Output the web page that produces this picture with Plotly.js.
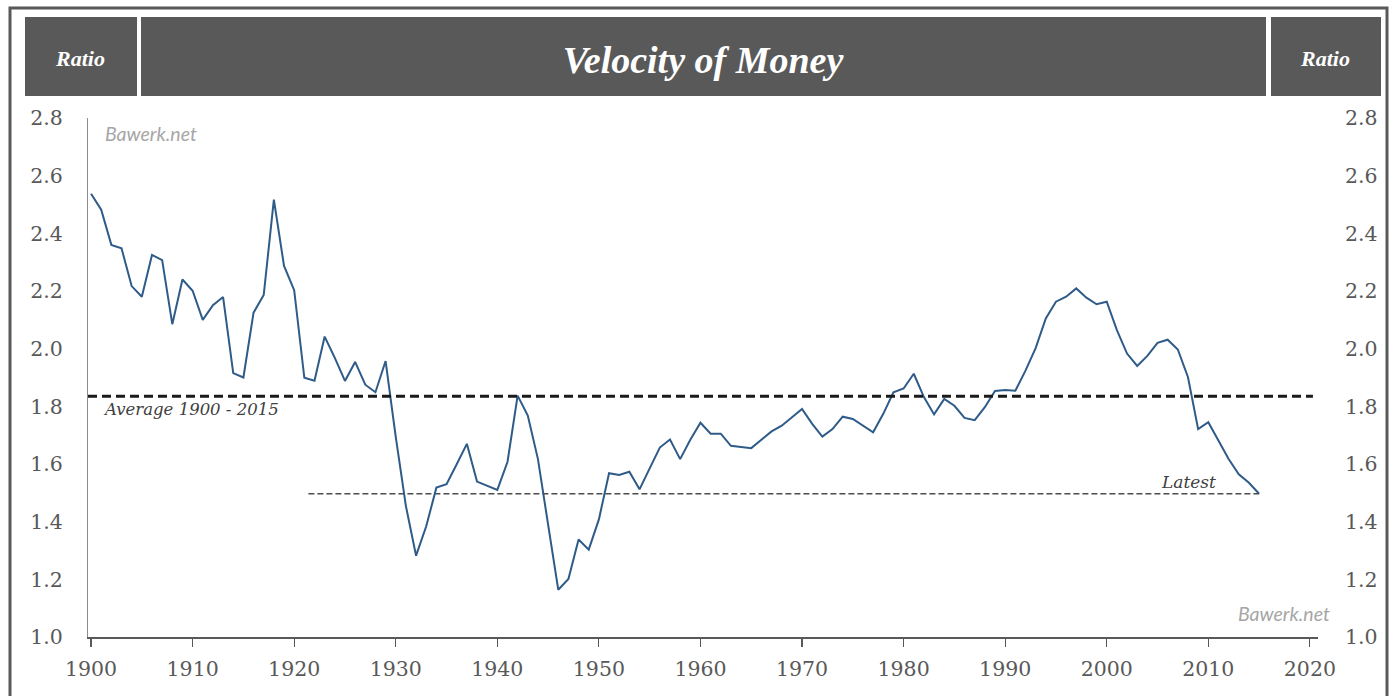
<!DOCTYPE html>
<html>
<head>
<meta charset="utf-8">
<script src="https://cdn.plot.ly/plotly-3.0.1.min.js"></script>
<style>
  html, body { margin: 0; padding: 0; background: #ffffff; }
  #chart { width: 1394px; height: 696px; }
</style>
</head>
<body>
<div id="chart"></div>
<script>
// ---- Data ----
const years = [];
for (let y = 1900; y <= 2015; y++) years.push(y);

const velocity = [
  2.537, 2.482, 2.360, 2.348, 2.217, 2.180, 2.325, 2.307, 2.085, 2.240,
  2.201, 2.100, 2.151, 2.179, 1.915, 1.900, 2.125, 2.186, 2.517, 2.287,
  2.203, 1.899, 1.889, 2.042, 1.968, 1.888, 1.954, 1.875, 1.849, 1.957,
  1.694, 1.454, 1.282, 1.384, 1.518, 1.530, 1.599, 1.670, 1.539, 1.524,
  1.510, 1.607, 1.837, 1.768, 1.617, 1.390, 1.164, 1.201, 1.338, 1.303,
  1.408, 1.568, 1.562, 1.573, 1.512, 1.585, 1.657, 1.685, 1.617, 1.684,
  1.743, 1.705, 1.705, 1.663, 1.660, 1.655, 1.684, 1.713, 1.733, 1.762,
  1.791, 1.739, 1.695, 1.721, 1.764, 1.756, 1.733, 1.710, 1.774, 1.849,
  1.862, 1.913, 1.832, 1.772, 1.826, 1.802, 1.760, 1.752, 1.797, 1.853,
  1.857, 1.854, 1.924, 2.002, 2.105, 2.163, 2.180, 2.209, 2.177, 2.154,
  2.163, 2.064, 1.983, 1.940, 1.975, 2.020, 2.031, 1.997, 1.901, 1.721,
  1.745, 1.681, 1.617, 1.564, 1.535, 1.497
];

const averageValue = 1.835;           // "Average 1900 - 2015"
const averageSpan = [1899.7, 2020.3]; // extent of the average line
const latestStart = 1921.4;           // where the "Latest" line begins
const xTicks = [1900, 1910, 1920, 1930, 1940, 1950, 1960, 1970, 1980, 1990, 2000, 2010, 2020];
const yTicks = [1.0, 1.2, 1.4, 1.6, 1.8, 2.0, 2.2, 2.4, 2.6, 2.8];
const yTickText = yTicks.map(v => v.toFixed(1));

const titleText = "Velocity of Money";
const unitText = "Ratio";
const sourceText = "Bawerk.net";
const averageLabel = "Average 1900 - 2015";
const latestLabel = "Latest";

// ---- Layout helpers (pixel -> paper, for decoration only) ----
const W = 1394, H = 696;
const M = { l: 88, r: 76, t: 118, b: 59 };
const PW = W - M.l - M.r, PH = H - M.t - M.b;
const px = x => (x - M.l) / PW;
const py = y => (H - M.b - y) / PH;

const latestValue = velocity[velocity.length - 1];
const lastYear = years[years.length - 1];

const tickFont = { family: "DejaVu Serif", size: 20.5, color: "#595959" };

const traces = [
  {
    x: averageSpan, y: [averageValue, averageValue],
    type: "scatter", mode: "lines", yaxis: "y2",
    line: { color: "#1a1a1a", width: 3, dash: "9px,5px" },
    hoverinfo: "skip", showlegend: false
  },
  {
    x: [latestStart, lastYear], y: [latestValue, latestValue],
    type: "scatter", mode: "lines",
    line: { color: "#4d4d4d", width: 1.5, dash: "6px,3px" },
    hoverinfo: "skip", showlegend: false
  },
  {
    x: years, y: velocity,
    type: "scatter", mode: "lines",
    line: { color: "#2f5b88", width: 2 },
    showlegend: false
  }
];

const headerColor = "#595959";
const layout = {
  width: W, height: H,
  margin: M,
  paper_bgcolor: "#ffffff",
  plot_bgcolor: "#ffffff",
  showlegend: false,
  title: {
    text: titleText,
    x: 703 / W, xref: "container", xanchor: "center",
    y: 1 - 60 / H, yref: "container", yanchor: "middle",
    font: { family: "Liberation Serif", size: 38, color: "#ffffff", weight: "bold", style: "italic" }
  },
  xaxis: {
    range: [1899.7, 2020.8],
    tickmode: "array", tickvals: xTicks, ticktext: xTicks.map(String),
    ticks: "outside", ticklen: 8, tickwidth: 1.2, tickcolor: "#595959",
    showline: true, linecolor: "#595959", linewidth: 1.5,
    showgrid: false, zeroline: false,
    tickfont: tickFont, ticklabelstandoff: 5
  },
  yaxis: {
    range: [1.0, 2.8],
    tickmode: "array", tickvals: yTicks, ticktext: yTickText,
    ticks: "", showline: true, linecolor: "#8c8c8c", linewidth: 1,
    showgrid: false, zeroline: false,
    tickfont: tickFont, ticklabelstandoff: 20
  },
  yaxis2: {
    range: [1.0, 2.8], overlaying: "y", side: "right",
    tickmode: "array", tickvals: yTicks, ticktext: yTickText,
    ticks: "", showline: false, showgrid: false, zeroline: false,
    tickfont: tickFont, ticklabelstandoff: 26
  },
  shapes: [
    // outer frame
    { type: "rect", xref: "paper", yref: "paper", layer: "below",
      x0: px(10), x1: px(1387), y0: py(705), y1: py(8),
      line: { color: "#595959", width: 3 }, fillcolor: "rgba(0,0,0,0)" },
    // header boxes
    { type: "rect", xref: "paper", yref: "paper", layer: "below",
      x0: px(25), x1: px(137), y0: py(96), y1: py(17),
      line: { width: 0 }, fillcolor: headerColor },
    { type: "rect", xref: "paper", yref: "paper", layer: "below",
      x0: px(141), x1: px(1266), y0: py(96), y1: py(17),
      line: { width: 0 }, fillcolor: headerColor },
    { type: "rect", xref: "paper", yref: "paper", layer: "below",
      x0: px(1271), x1: px(1381), y0: py(96), y1: py(17),
      line: { width: 0 }, fillcolor: headerColor }
  ],
  annotations: [
    { text: unitText, xref: "paper", yref: "paper", x: px(80), y: py(58),
      xanchor: "center", yanchor: "middle", showarrow: false,
      font: { family: "Liberation Serif", size: 22, color: "#ffffff", weight: "bold", style: "italic" } },
    { text: unitText, xref: "paper", yref: "paper", x: px(1325), y: py(58),
      xanchor: "center", yanchor: "middle", showarrow: false,
      font: { family: "Liberation Serif", size: 22, color: "#ffffff", weight: "bold", style: "italic" } },
    { text: sourceText, xref: "paper", yref: "paper", x: px(103), y: py(134),
      xanchor: "left", yanchor: "middle", showarrow: false,
      font: { family: "Lato", size: 19.5, color: "#a6a6a6", style: "italic" } },
    { text: sourceText, xref: "paper", yref: "paper", x: px(1332), y: py(613),
      xanchor: "right", yanchor: "middle", showarrow: false,
      font: { family: "Lato", size: 19.5, color: "#a6a6a6", style: "italic" } },
    { text: averageLabel, xref: "x", yref: "y", x: 1901.0, y: averageValue,
      xanchor: "left", yanchor: "top", yshift: -2, showarrow: false,
      font: { family: "DejaVu Serif", size: 16.5, color: "#404040", style: "italic" } },
    { text: latestLabel, xref: "x", yref: "y", x: 2011.0, y: latestValue,
      xanchor: "right", yanchor: "bottom", yshift: 0, showarrow: false,
      font: { family: "DejaVu Serif", size: 17, color: "#404040", style: "italic" } }
  ]
};

Plotly.newPlot("chart", traces, layout, { displayModeBar: false, staticPlot: true });
</script>
</body>
</html>
